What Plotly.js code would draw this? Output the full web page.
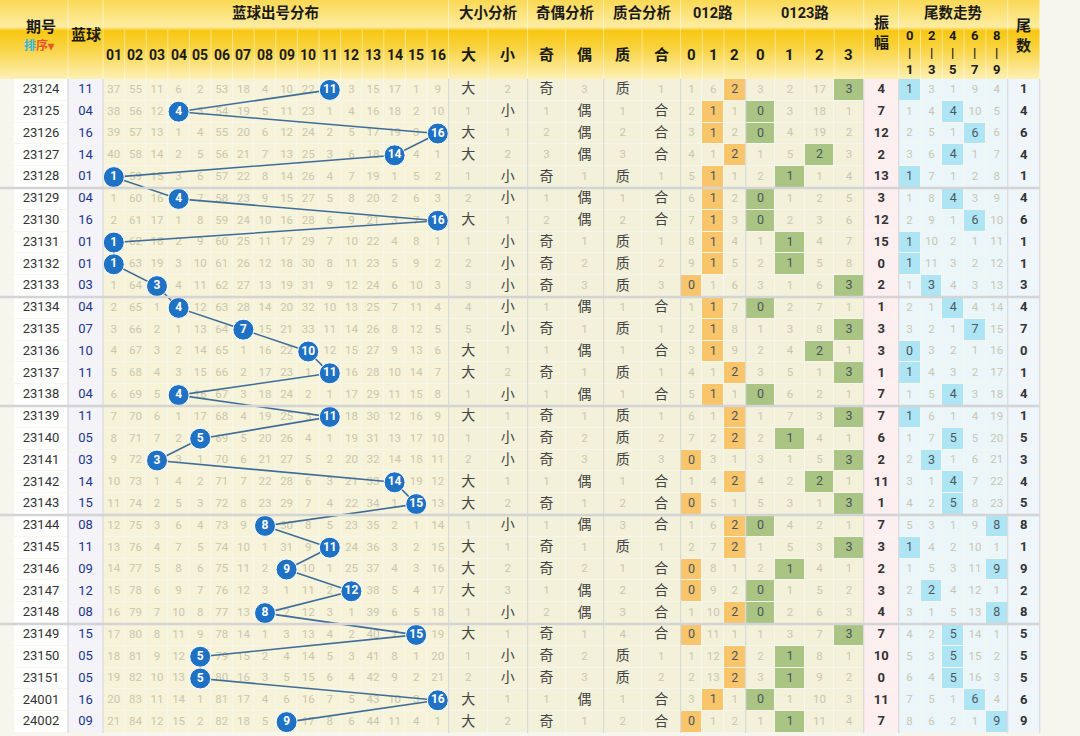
<!DOCTYPE html>
<html>
<head>
<meta charset="utf-8">
<script src="https://cdn.plot.ly/plotly-3.0.1.min.js"></script>
<style>html,body{margin:0;padding:0;background:#fff}#chart{width:1080px;height:736px}</style>
</head>
<body>
<div id="chart"></div>
<script>
var periods = ['23124','23125','23126','23127','23128','23129','23130','23131','23132','23133',
  '23134','23135','23136','23137','23138','23139','23140','23141','23142','23143',
  '23144','23145','23146','23147','23148','23149','23150','23151','24001','24002'];
var balls = [11,4,16,14,1,4,16,1,1,3,4,7,10,11,4,11,5,3,14,15,8,11,9,12,8,15,5,5,16,9];

// omission counts for 01..16, 0 where the ball came out
var distMiss = [
  [37,55,11,6,2,53,18,4,10,22,0,3,15,17,1,9],
  [38,56,12,0,3,54,19,5,11,23,1,4,16,18,2,10],
  [39,57,13,1,4,55,20,6,12,24,2,5,17,19,3,0],
  [40,58,14,2,5,56,21,7,13,25,3,6,18,0,4,1],
  [0,59,15,3,6,57,22,8,14,26,4,7,19,1,5,2],
  [1,60,16,0,7,58,23,9,15,27,5,8,20,2,6,3],
  [2,61,17,1,8,59,24,10,16,28,6,9,21,3,7,0],
  [0,62,18,2,9,60,25,11,17,29,7,10,22,4,8,1],
  [0,63,19,3,10,61,26,12,18,30,8,11,23,5,9,2],
  [1,64,0,4,11,62,27,13,19,31,9,12,24,6,10,3],
  [2,65,1,0,12,63,28,14,20,32,10,13,25,7,11,4],
  [3,66,2,1,13,64,0,15,21,33,11,14,26,8,12,5],
  [4,67,3,2,14,65,1,16,22,0,12,15,27,9,13,6],
  [5,68,4,3,15,66,2,17,23,1,0,16,28,10,14,7],
  [6,69,5,0,16,67,3,18,24,2,1,17,29,11,15,8],
  [7,70,6,1,17,68,4,19,25,3,0,18,30,12,16,9],
  [8,71,7,2,0,69,5,20,26,4,1,19,31,13,17,10],
  [9,72,0,3,1,70,6,21,27,5,2,20,32,14,18,11],
  [10,73,1,4,2,71,7,22,28,6,3,21,33,0,19,12],
  [11,74,2,5,3,72,8,23,29,7,4,22,34,1,0,13],
  [12,75,3,6,4,73,9,0,30,8,5,23,35,2,1,14],
  [13,76,4,7,5,74,10,1,31,9,0,24,36,3,2,15],
  [14,77,5,8,6,75,11,2,0,10,1,25,37,4,3,16],
  [15,78,6,9,7,76,12,3,1,11,2,0,38,5,4,17],
  [16,79,7,10,8,77,13,0,2,12,3,1,39,6,5,18],
  [17,80,8,11,9,78,14,1,3,13,4,2,40,7,0,19],
  [18,81,9,12,0,79,15,2,4,14,5,3,41,8,1,20],
  [19,82,10,13,0,80,16,3,5,15,6,4,42,9,2,21],
  [20,83,11,14,1,81,17,4,6,16,7,5,43,10,3,0],
  [21,84,12,15,2,82,18,5,0,17,8,6,44,11,4,1]
];

var bigSmall = ['大 2','1 小','大 1','大 2','1 小','2 小','大 1','1 小','2 小','3 小',
  '4 小','5 小','大 1','大 2','1 小','大 1','1 小','2 小','大 1','大 2',
  '1 小','大 1','大 2','大 3','1 小','大 1','1 小','2 小','大 1','大 2'];
var oddEven = ['奇 3','1 偶','2 偶','3 偶','奇 1','1 偶','2 偶','奇 1','奇 2','奇 3',
  '1 偶','奇 1','1 偶','奇 1','1 偶','奇 1','奇 2','奇 3','1 偶','奇 1',
  '1 偶','奇 1','奇 2','1 偶','2 偶','奇 1','奇 2','奇 3','1 偶','奇 1'];
var primeComp = ['质 1','1 合','2 合','3 合','质 1','1 合','2 合','质 1','质 2','质 3',
  '1 合','质 1','1 合','质 1','1 合','质 1','质 2','质 3','1 合','2 合',
  '3 合','质 1','1 合','2 合','3 合','4 合','质 1','质 2','1 合','2 合'];
var road3 = ['1 6 2','2 1 1','3 1 2','4 1 2','5 1 1','6 1 2','7 1 3','8 1 4','9 1 5','0 1 6',
  '1 1 7','2 1 8','3 1 9','4 1 2','5 1 1','6 1 2','7 2 2','0 3 1','1 4 2','0 5 1',
  '1 6 2','2 7 2','0 8 1','0 9 2','1 10 2','0 11 1','1 12 2','2 13 2','3 1 1','0 1 2'];
var road4 = ['3 2 17 3','0 3 18 1','0 4 19 2','1 5 2 3','2 1 1 4','0 1 2 5','0 2 3 6','1 1 4 7','2 1 5 8','3 1 6 3',
  '0 2 7 1','1 3 8 3','2 4 2 1','3 5 1 3','0 6 2 1','1 7 3 3','2 1 4 1','3 1 5 3','4 2 2 1','5 3 1 3',
  '0 4 2 1','1 5 3 3','2 1 4 1','0 1 5 2','0 2 6 3','1 3 7 3','2 1 8 1','3 1 9 2','0 1 10 3','1 1 11 4'];
var amplitude = [4,7,12,2,13,3,12,15,0,2,1,3,3,1,7,7,6,2,11,1,7,3,2,3,4,7,10,0,11,7];
var tailTrend = ['1 3 1 9 4','1 4 4 10 5','2 5 1 6 6','3 6 4 1 7','1 7 1 2 8','1 8 4 3 9','2 9 1 6 10','1 10 2 1 11','1 11 3 2 12','1 3 4 3 13',
  '2 1 4 4 14','3 2 1 7 15','0 3 2 1 16','1 4 3 2 17','1 5 4 3 18','1 6 1 4 19','1 7 5 5 20','2 3 1 6 21','3 1 4 7 22','4 2 5 8 23',
  '5 3 1 9 8','1 4 2 10 1','1 5 3 11 9','2 2 4 12 1','3 1 5 13 8','4 2 5 14 1','5 3 5 15 2','6 4 5 16 3','7 5 1 6 4','8 6 2 1 9'];
var tails = [1,4,6,4,1,4,6,1,1,3,4,7,0,1,4,1,5,3,4,5,8,1,9,2,8,5,5,5,6,9];

var distLabels = ['01','02','03','04','05','06','07','08','09','10','11','12','13','14','15','16'];
var subLabels = ['大','小','奇','偶','质','合','0','1','2','0','1','2','3'];
var tailLabels = ['0<br>|<br>1','2<br>|<br>3','4<br>|<br>5','6<br>|<br>7','8<br>|<br>9'];
var sectionTitles = ['蓝球出号分布','大小分析','奇偶分析','质合分析','012路','0123路','尾数走势'];

var FONT = 'Roboto, "Noto Sans CJK SC", sans-serif';
var HEAD = 79, RH = 21.8, X0 = 14;
var colW = [54, 35];
for (var i = 0; i < 16; i++) colW.push(21.6);
colW = colW.concat([39.5,39.5, 38,38, 38.5,38.5, 21.7,21.7,21.7, 29.5,29.5,29.5,29.5, 35, 21.8,21.8,21.8,21.8,21.8, 32]);
var edges = [X0];
colW.forEach(function (w) { edges.push(edges[edges.length - 1] + w); });
function cx(c) { return (edges[c] + edges[c + 1]) / 2; }
function cy(r) { return HEAD + (r + 0.5) * RH; }
var secSpan = [[2,18],[18,20],[20,22],[22,24],[24,27],[27,31],[32,37]];
var nRows = periods.length;
var xRight = edges[edges.length - 1];

// cell background codes
var palette = ['#ffffff','#f3f3f9','#f6f3d9','#f3f1da','#f9c56b','#a9c483','#fdeef0','#ebf6fb','#aee5f5','#eef5fb'];
var cscale = [];
palette.forEach(function (c, k) { cscale.push([k / palette.length, c]); cscale.push([(k + 1) / palette.length, c]); });
var z = [], yEdges = [];
for (var r = 0; r <= nRows; r++) yEdges.push(HEAD + r * RH);
for (var r = 0; r < nRows; r++) {
  var row = [0, 1];
  for (var c = 0; c < 16; c++) row.push(2);
  for (var c = 0; c < 6; c++) row.push(3);
  for (var c = 0; c < 3; c++) row.push(c === balls[r] % 3 ? 4 : 3);
  for (var c = 0; c < 4; c++) row.push(c === balls[r] % 4 ? 5 : 3);
  row.push(6);
  for (var c = 0; c < 5; c++) row.push(c === Math.floor(tails[r] / 2) ? 8 : 7);
  row.push(9);
  z.push(row);
}

// header gradient
var hz = [], hy = [];
for (var k = 0; k <= HEAD; k++) hy.push(k);
for (var k = 0; k < HEAD; k++) hz.push([k + 0.5]);
var headBg = {
  type: 'heatmap', x: [0, xRight], y: hy, z: hz, zmin: 0, zmax: HEAD, showscale: false, hoverinfo: 'skip',
  colorscale: [[0,'#fad955'],[0.34,'#fdeca2'],[0.39,'#f7c712'],[0.62,'#f9d443'],[1,'#fdf0b6']]
};
var cells = {
  type: 'heatmap', x: edges, y: yEdges, z: z, zmin: -0.5, zmax: palette.length - 0.5,
  colorscale: cscale, showscale: false, hoverinfo: 'skip', xgap: 1, ygap: 1
};

// text groups
var light = {x: [], y: [], text: []}, chars = {x: [], y: [], text: []}, hitNum = {x: [], y: [], text: []}, bold = {x: [], y: [], text: []};
function put(g, c, r, t) { g.x.push(cx(c)); g.y.push(cy(r)); g.text.push(String(t)); }
for (var r = 0; r < nRows; r++) {
  for (var c = 0; c < 16; c++) if (c !== balls[r] - 1) put(light, 2 + c, r, distMiss[r][c]);
  [bigSmall, oddEven, primeComp].forEach(function (arr, s) {
    arr[r].split(' ').forEach(function (t, j) { put(/\d/.test(t) ? light : chars, 18 + s * 2 + j, r, t); });
  });
  road3[r].split(' ').forEach(function (t, j) { put(j === balls[r] % 3 ? hitNum : light, 24 + j, r, t); });
  road4[r].split(' ').forEach(function (t, j) { put(j === balls[r] % 4 ? hitNum : light, 27 + j, r, t); });
  put(bold, 31, r, '<b>' + amplitude[r] + '</b>');
  tailTrend[r].split(' ').forEach(function (t, j) { put(j === Math.floor(tails[r] / 2) ? hitNum : light, 32 + j, r, t); });
  put(bold, 37, r, '<b>' + tails[r] + '</b>');
}
function textTrace(g, color, size) {
  return {type: 'scatter', mode: 'text', x: g.x, y: g.y, text: g.text, hoverinfo: 'skip',
    textfont: {family: FONT, size: size, color: color}};
}
var rowIdx = periods.map(function (p, r) { return cy(r); });
var periodTrace = {type: 'scatter', mode: 'text', x: periods.map(function () { return cx(0); }), y: rowIdx,
  text: periods, hoverinfo: 'skip', textfont: {family: FONT, size: 13, color: '#333'}};
var ballColTrace = {type: 'scatter', mode: 'text', x: balls.map(function () { return cx(1); }), y: rowIdx,
  text: balls.map(function (b) { return (b < 10 ? '0' : '') + b; }), hoverinfo: 'skip',
  textfont: {family: FONT, size: 13, color: '#22358a'}};
var ballTrace = {
  type: 'scatter', mode: 'lines+markers+text', x: balls.map(function (b) { return cx(b + 1); }), y: rowIdx,
  text: balls.map(function (b) { return '<b>' + b + '</b>'; }), hoverinfo: 'skip',
  line: {color: '#3f6d97', width: 1.6},
  marker: {size: 21, color: '#1f72c3', line: {color: '#ffffff', width: 1}},
  textfont: {family: FONT, size: 12, color: '#ffffff'}
};

// decoration
var shapes = [];
function vline(x, y0, y1, color, w) {
  shapes.push({type: 'line', xref: 'x', yref: 'y', x0: x, x1: x, y0: y0, y1: y1, line: {color: color, width: w}});
}
for (var e = 1; e < edges.length; e++) vline(edges[e], 30, HEAD, 'rgba(255,255,255,0.45)', 1);
[1, 2, 18, 20, 22, 24, 27, 31, 32, 37, 38].forEach(function (e) {
  vline(edges[e], 0, 30, 'rgba(255,255,255,0.5)', 1);
  vline(edges[e], HEAD, HEAD + nRows * RH, '#dadada', 1.2);
});
for (var k = 5; k < nRows; k += 5) {
  shapes.push({type: 'line', xref: 'x', yref: 'y', x0: 0, x1: xRight, y0: HEAD + k * RH, y1: HEAD + k * RH,
    line: {color: '#d4d4d4', width: 2.5}});
}

var ann = [];
function note(x, y, t, size, color) {
  ann.push({x: x, y: y, xref: 'x', yref: 'y', text: t, showarrow: false,
    font: {family: FONT, size: size || 14, color: color || '#1a1a1a'}});
}
note(cx(0), 27, '<b>期号</b>', 15);
note(cx(0) - 2, 45, '<b><span style="color:#35b3e2">排</span><span style="color:#e8552a">序▾</span></b>', 12);
note(cx(1), 35, '<b>蓝球</b>', 15);
sectionTitles.forEach(function (t, s) { note((edges[secSpan[s][0]] + edges[secSpan[s][1]]) / 2, 13, '<b>' + t + '</b>', 14.5); });
distLabels.forEach(function (t, j) { note(cx(2 + j), 55, '<b>' + t + '</b>', 14); });
subLabels.forEach(function (t, j) { note(cx(18 + j), 55, '<b>' + t + '</b>', 15); });
tailLabels.forEach(function (t, j) { note(cx(32 + j), 52, '<b>' + t + '</b>', 13); });
note(cx(31), 33, '<b>振<br>幅</b>', 15);
note(cx(37), 36, '<b>尾<br>数</b>', 15);

var data = [headBg, cells,
  textTrace(light, '#c9c6b0', 11.5), textTrace(chars, '#444', 14), textTrace(hitNum, '#4d5560', 12.5),
  textTrace(bold, '#333', 13), periodTrace, ballColTrace, ballTrace];
var layout = {
  width: 1080, height: 736, showlegend: false, hovermode: false,
  margin: {l: 0, r: 0, t: 0, b: 0, pad: 0},
  paper_bgcolor: '#ffffff', plot_bgcolor: '#f6f6ee',
  xaxis: {range: [0, 1080], visible: false, fixedrange: true},
  yaxis: {range: [736, 0], visible: false, fixedrange: true},
  shapes: shapes, annotations: ann
};
Plotly.newPlot('chart', data, layout, {displayModeBar: false, staticPlot: true});
</script>
</body>
</html>
